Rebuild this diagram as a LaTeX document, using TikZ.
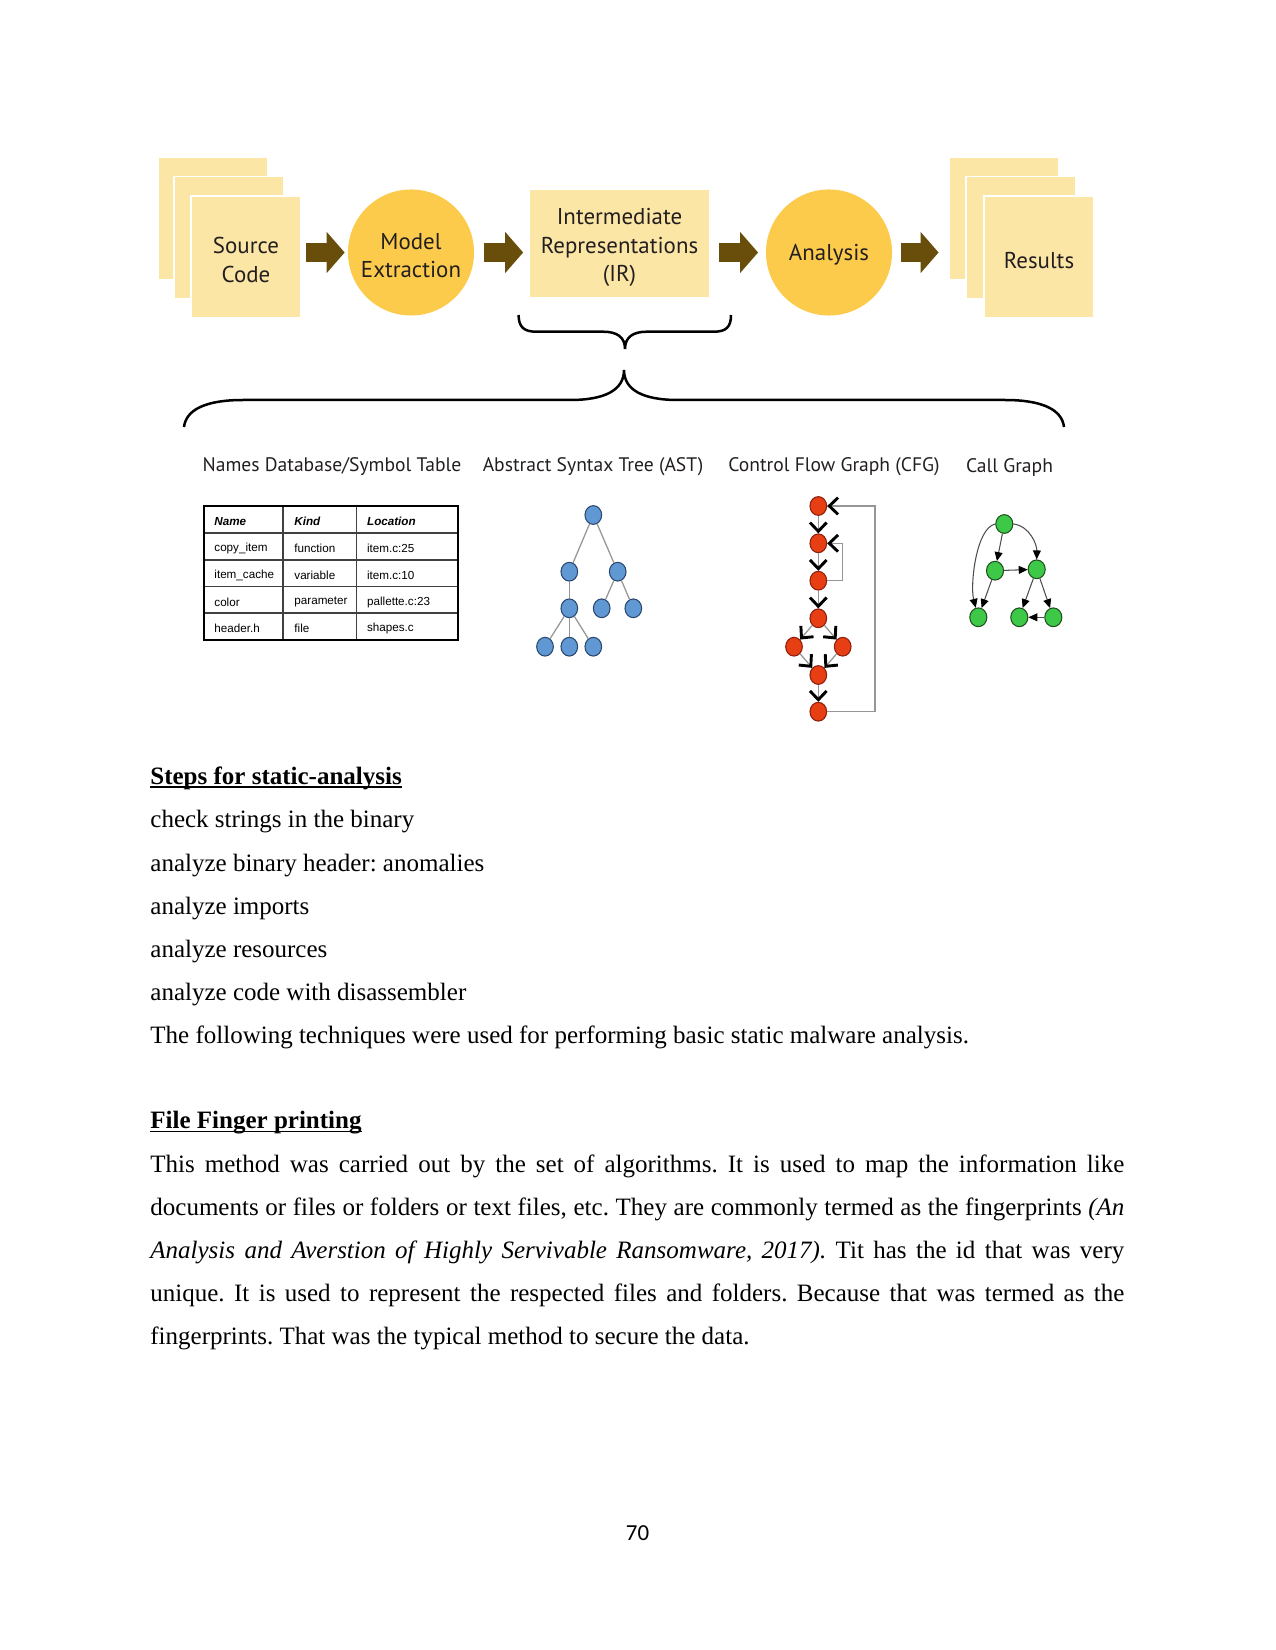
\documentclass[tikz,border=0pt]{standalone}
\usepackage{fontspec}
\setmainfont{Liberation Serif}
\newfontfamily\diagfont{PT Sans}
\newfontfamily\tabfont{Liberation Sans}
\newfontfamily\pnumfont{Carlito}
\usetikzlibrary{arrows.meta,shapes.geometric,calc}
\definecolor{cardfill}{RGB}{252,230,166}
\definecolor{circfill}{RGB}{253,203,75}
\definecolor{arrowbrown}{RGB}{104,78,10}
\definecolor{dtext}{RGB}{35,31,32}
\definecolor{astfill}{RGB}{96,152,212}
\definecolor{astdraw}{RGB}{40,70,110}
\definecolor{cfgfill}{RGB}{232,62,20}
\definecolor{cfgdraw}{RGB}{140,30,10}
\definecolor{cgfill}{RGB}{62,200,72}
\definecolor{cgdraw}{RGB}{30,80,30}
\definecolor{edgegray}{RGB}{150,150,150}
\newcommand\myul[1]{\setbox0\hbox{#1}\rlap{\rule[-1.7pt]{\wd0}{0.6pt}}\box0}
\frenchspacing
\begin{document}
\begin{tikzpicture}[x=0.48pt,y=-0.48pt,
  card/.style={draw=white, line width=0.8pt, fill=cardfill, minimum width=52.8pt, minimum height=58.6pt, inner sep=0pt},
  stage/.style={circle, fill=circfill, minimum size=60.5pt, inner sep=0pt},
  stagetxt/.style={inner sep=0pt, font=\diagfont\fontsize{11}{13.6}\selectfont, text=dtext, align=center},
  blockarrow/.style={draw=arrowbrown, line width=9.1pt, -{Triangle[length=8.6pt,width=19.2pt]}},
  brace/.style={draw=black, line width=1.2pt},
  lbl/.style={font=\diagfont\fontsize{9.4}{11}\selectfont, text=dtext},
  tcell/.style={anchor=west, inner sep=0pt, font=\tabfont\fontsize{5.6}{6.5}\selectfont},
  astnode/.style={ellipse, draw=astdraw, fill=astfill, line width=0.5pt, minimum width=8pt, minimum height=9pt, inner sep=0pt},
  cfgnode/.style={ellipse, draw=cfgdraw, fill=cfgfill, line width=0.5pt, minimum width=8pt, minimum height=9pt, inner sep=0pt},
  cgnode/.style={ellipse, draw=cgdraw, fill=cgfill, line width=0.5pt, minimum width=8.2pt, minimum height=9pt, inner sep=0pt},
  astedge/.style={draw=edgegray, line width=0.6pt},
  cfgedge/.style={draw=edgegray, line width=0.6pt, -{Straight Barb[length=4.2pt,width=8pt,line width=1.4pt,color=black]}},
  cgedge/.style={draw=black!70, line width=0.5pt, -{Triangle[length=4.3pt,width=3.8pt,color=black]}},
  body/.style={anchor=base west, inner sep=0pt, font=\fontsize{12}{14.4}\selectfont, text=black}
]
\useasboundingbox (0,0) rectangle (1275,1650);
\fill[white] (0,0) rectangle (1275,1650);

% ---------- top row ----------
\node[card] (src1) at (213,218.5) {};
\node[card] (src2) at (229,237.5) {};
\node[card] (src3) at (246,257) {};
\node[stagetxt] (srctxt) at ([yshift=-1.5pt]src3.center) {Source\\Code};

\node[stage] (me) at (411,252.5) {};
\node[stagetxt] (metxt) at ([yshift=-1.5pt]me.center) {Model\\Extraction};

\node[card, minimum width=86.9pt, minimum height=52pt] (ir) at (619.5,243.5) {};
\node[stagetxt] (irtxt) at ([yshift=-2pt]ir.center) {Intermediate\\Representations\\(IR)};

\node[stage] (an) at (829,252.5) {};
\node[stagetxt] (antxt) at ([yshift=-1.2pt]an.center) {Analysis};

\node[card] (res1) at (1004,218.5) {};
\node[card] (res2) at (1021,237.5) {};
\node[card] (res3) at (1039,257) {};
\node[stagetxt] (restxt) at ([yshift=-1.5pt]res3.center) {Results};

\draw[blockarrow, shorten <=1.9pt, shorten >=1.4pt] (src3.east |- me.center) -- (me.west);
\draw[blockarrow, shorten <=4.8pt, shorten >=2.4pt] (me.east) -- (ir.west |- me.east);
\draw[blockarrow, shorten <=4.1pt, shorten >=3.6pt] (ir.east |- an.west) -- (an.west);
\draw[blockarrow, shorten <=4.1pt, shorten >=4.6pt] (an.east) -- (res1.west |- an.east);

% ---------- braces ----------
\draw[brace] (518.6,315) .. controls (518.6,327) and (524,331.7) .. (536,331.7) -- (603,331.7)
  .. controls (617,331.7) and (625,337) .. (625,349)
  .. controls (625,337) and (633,331.7) .. (647,331.7) -- (714,331.7)
  .. controls (726,331.7) and (731,327) .. (731,315);
\draw[brace] (184,427) .. controls (186,410) and (205,400) .. (243,400) -- (570,400)
  .. controls (605,400) and (624,390) .. (624,370)
  .. controls (624,390) and (643,400) .. (678,400) -- (1005,400)
  .. controls (1043,400) and (1062,410) .. (1064,427);

% ---------- labels ----------
\node[lbl] (l1) at (332,467) {Names Database/Symbol Table};
\node[lbl] (l2) at (593,467) {Abstract Syntax Tree (AST)};
\node[lbl] (l3) at (834,467) {Control Flow Graph (CFG)};
\node[lbl] (l4) at (1009.5,467) {Call Graph};

% ---------- symbol table ----------
\draw[line width=0.7pt, black!75] (283,506) -- (283,640) (356.7,506) -- (356.7,640)
  (204,533) -- (458,533) (204,560) -- (458,560) (204,586.7) -- (458,586.7) (204,613) -- (458,613);
\draw[line width=1.4pt, black] (204,506) rectangle (458,640);
\node[tcell] (th1) at (214,521.5) {\bfseries\itshape Name};
\node[tcell] (th2) at (294,521.5) {\bfseries\itshape Kind};
\node[tcell] (th3) at (366.7,521.5) {\bfseries\itshape Location};
\node[tcell] (r1a) at (214,548.5) {copy\_item};
\node[tcell] (r1b) at (294,548.5) {function};
\node[tcell] (r1c) at (366.7,548.5) {item.c:25};
\node[tcell] (r2a) at (214,575.3) {item\_cache};
\node[tcell] (r2b) at (294,575.3) {variable};
\node[tcell] (r2c) at (366.7,575.3) {item.c:10};
\node[tcell] (r3a) at (214,602) {color};
\node[tcell] (r3b) at (294,602) {parameter};
\node[tcell] (r3c) at (366.7,602) {pallette.c:23};
\node[tcell] (r4a) at (214,628.5) {header.h};
\node[tcell] (r4b) at (294,628.5) {file};
\node[tcell] (r4c) at (366.7,628.5) {shapes.c};

% ---------- AST ----------
\node[astnode] (a1) at (593.3,515) {};
\node[astnode] (a2) at (569.3,571.7) {};
\node[astnode] (a3) at (617.7,571.7) {};
\node[astnode] (a4) at (569.3,608.3) {};
\node[astnode] (a5) at (601.7,608.3) {};
\node[astnode] (a6) at (633.3,608.3) {};
\node[astnode] (a7) at (545,646.7) {};
\node[astnode] (a8) at (569.3,646.7) {};
\node[astnode] (a9) at (593.3,646.7) {};
\draw[astedge] (a1) -- (a2);
\draw[astedge] (a1) -- (a3);
\draw[astedge] (a2) -- (a4);
\draw[astedge] (a3) -- (a5);
\draw[astedge] (a3) -- (a6);
\draw[astedge] (a4) -- (a7);
\draw[astedge] (a4) -- (a8);
\draw[astedge] (a4) -- (a9);

% ---------- CFG ----------
\node[cfgnode] (c1) at (818.3,506) {};
\node[cfgnode] (c2) at (818.3,543.3) {};
\node[cfgnode] (c3) at (818.3,580.7) {};
\node[cfgnode] (c4) at (818.3,618.3) {};
\node[cfgnode] (c5) at (794,646.7) {};
\node[cfgnode] (c6) at (842.7,646.7) {};
\node[cfgnode] (c7) at (818.3,675) {};
\node[cfgnode] (c8) at (818.3,711.7) {};
\coordinate (bigloop) at (875,0);
\coordinate (smallloop) at (842.7,0);
\draw[cfgedge] (c1) -- (c2);
\draw[cfgedge] (c2) -- (c3);
\draw[cfgedge] (c3) -- (c4);
\draw[cfgedge] (c4) -- (c5);
\draw[cfgedge] (c4) -- (c6);
\draw[cfgedge] (c5) -- (c7);
\draw[cfgedge] (c6) -- (c7);
\draw[cfgedge] (c7) -- (c8);
\draw[cfgedge] (c3.east) -- (c3.east -| smallloop) |- (c2.east);
\draw[cfgedge] (c8.east) -- (c8.east -| bigloop) |- (c1.east);

% ---------- call graph ----------
\node[cgnode] (g1) at (1004.3,524) {};
\node[cgnode] (g2) at (995,570.7) {};
\node[cgnode] (g3) at (1036.7,569.3) {};
\node[cgnode] (g4) at (978.3,617.3) {};
\node[cgnode] (g5) at (1019.3,617.3) {};
\node[cgnode] (g6) at (1053.3,617.3) {};
\draw[cgedge] (g1.west) .. controls (976,528) and (970,585) .. (g4.105);
\draw[cgedge] (g1.east) .. controls (1030,526) and (1037,545) .. (g3.north);
\draw[cgedge] (g1) -- (g2);
\draw[cgedge] (g2) -- (g3);
\draw[cgedge] (g2) -- (g4);
\draw[cgedge] (g3) -- (g5);
\draw[cgedge] (g3) -- (g6);
\draw[cgedge] (g6) -- (g5);

% ---------- body text ----------
\node[body] (h1) at (150,784) {\myul{\textbf{Steps for static-analysis}}};
\node[body] (t1) at (150,827) {check strings in the binary};
\node[body] (t2) at (150,871) {analyze binary header: anomalies};
\node[body] (t3) at (150,914) {analyze imports};
\node[body] (t4) at (150,957) {analyze resources};
\node[body] (t5) at (150,1000) {analyze code with disassembler};
\node[body] (t6) at (150,1043) {The following techniques were used for performing basic static malware analysis.};

\node[body] (h2) at (150,1128.5) {\myul{\textbf{File Finger printing}}};
\node[body] (p1) at (150,1172) {\makebox[467.5pt][s]{This method was carried out by the set of algorithms. It is used to map the information like}};
\node[body] (p2) at (150,1215) {\makebox[467.5pt][s]{documents or files or folders or text files, etc. They are commonly termed as the fingerprints \textit{(An}}};
\node[body] (p3) at (150,1258) {\makebox[467.5pt][s]{\textit{Analysis and Averstion of Highly Servivable Ransomware, 2017).} Tit has the id that was very}};
\node[body] (p4) at (150,1301) {\makebox[467.5pt][s]{unique. It is used to represent the respected files and folders. Because that was termed as the}};
\node[body] (p5) at (150,1344) {fingerprints. That was the typical method to secure the data.};

\node[font=\pnumfont\fontsize{11}{13}\selectfont] (pg) at (637.5,1533) {70};
\end{tikzpicture}
\end{document}
